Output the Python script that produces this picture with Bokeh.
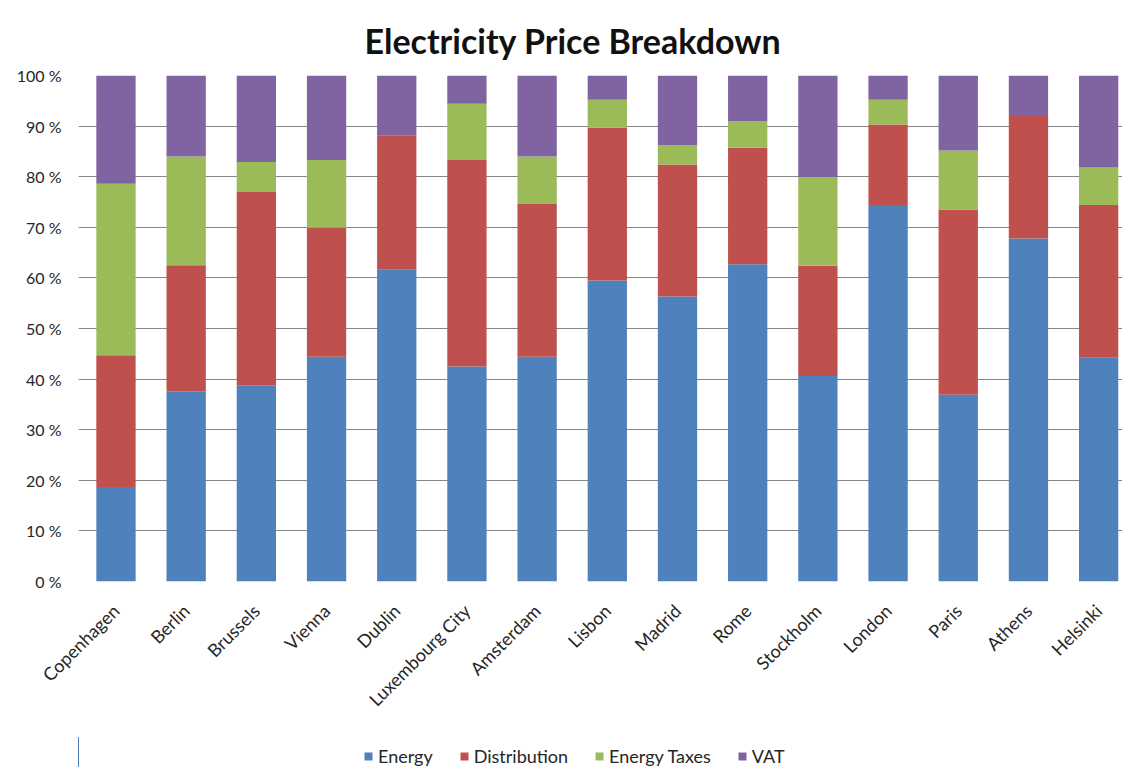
import math
from bokeh.plotting import figure
from bokeh.layouts import column
from bokeh.models import ColumnDataSource, FixedTicker, Legend, LegendItem
from bokeh.embed import file_html
from bokeh.resources import INLINE

cities = ["Copenhagen", "Berlin", "Brussels", "Vienna", "Dublin", "Luxembourg City",
          "Amsterdam", "Lisbon", "Madrid", "Rome", "Stockholm", "London", "Paris",
          "Athens", "Helsinki"]
energy = [18.7, 37.6, 38.8, 44.4, 61.6, 42.5, 44.4, 59.5, 56.3, 62.7, 40.6, 74.4, 36.9, 67.8, 44.2]
distribution = [26.0, 24.9, 38.2, 25.5, 26.6, 40.8, 30.2, 30.2, 26.1, 23.0, 21.8, 15.9, 36.6, 24.2, 30.2]
energy_taxes = [33.9, 21.5, 5.9, 13.4, 0.0, 11.1, 9.4, 5.5, 3.8, 5.3, 17.5, 4.9, 11.7, 0.0, 7.4]
vat = [21.4, 16.0, 17.1, 16.7, 11.8, 5.6, 16.0, 4.8, 13.8, 9.0, 20.1, 4.8, 14.8, 8.0, 18.2]
series_names = ["Energy", "Distribution", "Energy Taxes", "VAT"]
colors = ["#4F81BD", "#C0504D", "#9BBB59", "#8064A2"]
y_ticks = list(range(0, 101, 10))

x = list(range(len(cities)))
src = ColumnDataSource(dict(x=x, energy=energy, distribution=distribution,
                            energy_taxes=energy_taxes, vat=vat))
stack_cols = ["energy", "distribution", "energy_taxes", "vat"]

FONT = "Lato"
TXT = "#262626"
p = figure(width=1122, height=737, output_backend="svg", toolbar_location=None,
           x_range=(-0.534, 14.34), y_range=(0, 100),
           min_border_left=78, min_border_right=0, min_border_top=75, min_border_bottom=156)

renderers = p.vbar_stack(stack_cols, x="x", width=0.56, color=colors, source=src, line_width=0)

p.title.text = "Electricity Price Breakdown"
p.title.text_font = FONT
p.title.text_font_size = "34px"
p.title.text_font_style = "bold"
p.title.text_color = "#111111"
p.title.align = "left"
p.title.offset = 286
p.title.standoff = 30

p.xaxis.ticker = FixedTicker(ticks=x)
p.xaxis.major_label_overrides = {i: c for i, c in enumerate(cities)}
p.xaxis.major_label_orientation = math.pi / 4
p.xaxis.major_label_text_font = FONT
p.xaxis.major_label_text_font_size = "18px"
p.xaxis.major_label_text_color = TXT
p.xaxis.axis_line_color = None
p.xaxis.major_tick_line_color = None
p.xaxis.minor_tick_line_color = None
p.xaxis.major_tick_out = 0
p.xaxis.minor_tick_out = 0
p.xaxis.major_label_standoff = 26

p.yaxis.ticker = FixedTicker(ticks=y_ticks)
p.yaxis.major_label_overrides = {t: f"{t} %" for t in y_ticks}
p.yaxis.major_label_text_font = FONT
p.yaxis.major_label_text_font_size = "16px"
p.yaxis.major_label_text_color = TXT
p.yaxis.axis_line_color = None
p.yaxis.major_tick_line_color = None
p.yaxis.minor_tick_line_color = None
p.yaxis.major_tick_out = 0
p.yaxis.minor_tick_out = 0
p.yaxis.major_label_standoff = 17

p.xgrid.grid_line_color = None
p.ygrid.grid_line_color = "#868686"
p.ygrid.grid_line_width = 1
p.outline_line_color = None

# legend strip below the chart (its own zero-width bars sit outside its visible range)
lf = figure(width=1122, height=30, output_backend="svg", toolbar_location=None,
            x_range=(100, 101), y_range=(0, 1),
            min_border_left=78, min_border_right=0, min_border_top=0, min_border_bottom=0)
lf.axis.visible = False
lf.grid.grid_line_color = None
lf.outline_line_color = None
swatches = lf.vbar_stack(stack_cols, x="x", width=0.0, color=colors, source=src, line_width=0)

legend = Legend(items=[LegendItem(label=n, renderers=[r]) for n, r in zip(series_names, swatches)],
                orientation="horizontal", location=(285, 0))
legend.label_text_font = FONT
legend.label_text_font_size = "18px"
legend.label_text_color = TXT
legend.glyph_width = 10
legend.glyph_height = 10
legend.label_height = 18
legend.spacing = 26
legend.label_standoff = 5
legend.border_line_color = None
legend.background_fill_alpha = 0
legend.padding = 0
legend.margin = 0
lf.add_layout(legend, "center")

layout = column(p, lf, spacing=0)
open("out.html", "w").write(file_html(layout, INLINE))
